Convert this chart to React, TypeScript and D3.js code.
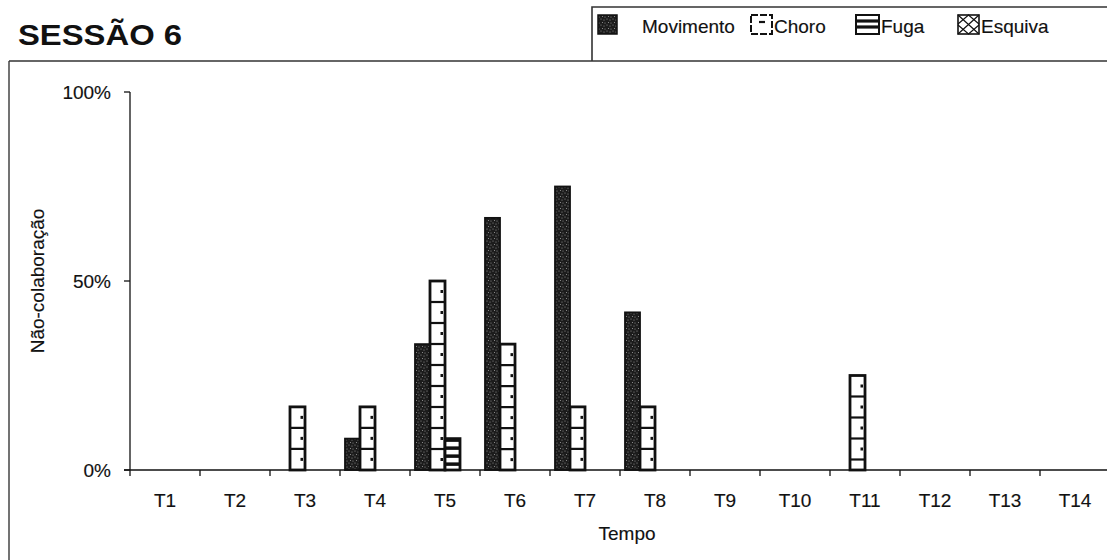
import { useEffect, useRef } from "react";
import * as d3 from "d3";

const categories = ["T1", "T2", "T3", "T4", "T5", "T6", "T7", "T8", "T9", "T10", "T11", "T12", "T13", "T14"];
const seriesNames = ["Movimento", "Choro", "Fuga", "Esquiva"];
const movimento = [0, 0, 0, 8.3, 33.3, 66.7, 75, 41.7, 0, 0, 0, 0, 0, 0];
const choro = [0, 0, 16.7, 16.7, 50, 33.3, 16.7, 16.7, 0, 0, 25, 0, 0, 0];
const fuga = [0, 0, 0, 0, 8.3, 0, 0, 0, 0, 0, 0, 0, 0, 0];
const esquiva = [0, 0, 0, 0, 0, 0, 0, 0, 0, 0, 0, 0, 0, 0];
const yTicks = [0, 50, 100];
const yTickLabels = ["0%", "50%", "100%"];

const FONT = "'Liberation Sans', Arial, sans-serif";
const INK = "#111";

export default function App() {
  const svgRef = useRef<SVGSVGElement | null>(null);
  const width = 1107;
  const height = 560;

  useEffect(() => {
    const svg = d3.select(svgRef.current);
    svg.selectAll("*").remove();

    const x0 = d3.scaleBand<string>().domain(categories).range([130, 1110]).padding(0);
    const x1 = d3
      .scaleBand<string>()
      .domain(seriesNames)
      .range([5, x0.bandwidth() - 5])
      .padding(0);
    const y = d3.scaleLinear().domain([0, 100]).range([470, 92]);

    // stipple for Movimento
    const defs = svg.append("defs");
    const pat = defs
      .append("pattern")
      .attr("id", "stip")
      .attr("patternUnits", "userSpaceOnUse")
      .attr("width", 6)
      .attr("height", 6);
    pat.append("rect").attr("width", 6).attr("height", 6).attr("fill", "#1c1c1c");
    [[1, 1], [4, 2], [2.5, 4.5], [5, 5]].forEach(([cx, cy]) =>
      pat.append("circle").attr("cx", cx).attr("cy", cy).attr("r", 0.55).attr("fill", "#9a9a9a")
    );

    const txt = (sel: d3.Selection<SVGTextElement, unknown, null, undefined>) =>
      sel.attr("font-family", FONT).attr("fill", INK).attr("stroke", INK).attr("stroke-width", 0.15);

    // frame
    svg.append("line").attr("x1", 9).attr("x2", 9).attr("y1", 61).attr("y2", 560).attr("stroke", "#444").attr("stroke-width", 1.5);
    svg.append("line").attr("x1", 9).attr("x2", 1107).attr("y1", 61).attr("y2", 61).attr("stroke", "#333").attr("stroke-width", 1.6);

    // title
    svg.append("text")
      .attr("x", 18)
      .attr("y", 45)
      .attr("font-family", FONT)
      .attr("font-weight", "bold")
      .attr("font-size", 30)
      .attr("textLength", 164)
      .attr("lengthAdjust", "spacingAndGlyphs")
      .attr("fill", INK)
      .text("SESSÃO 6");

    // legend box
    svg.append("path")
      .attr("d", "M592,61 L592,7 L1107,7")
      .attr("fill", "none")
      .attr("stroke", "#333")
      .attr("stroke-width", 1.6);

    const leg = svg.append("g");
    const legendX = [598, 751, 856, 958];
    const sw = 19;
    const sy = 15;
    // Movimento swatch
    leg.append("rect").attr("x", legendX[0]).attr("y", sy).attr("width", 19).attr("height", sw).attr("fill", "url(#stip)").attr("stroke", INK).attr("stroke-width", 1.5);
    // Choro swatch
    leg.append("rect").attr("x", legendX[1]).attr("y", sy).attr("width", 21).attr("height", sw).attr("fill", "#fff").attr("stroke", INK).attr("stroke-width", 2).attr("stroke-dasharray", "7 2");
    leg.append("line").attr("x1", legendX[1] + 8).attr("x2", legendX[1] + 14).attr("y1", sy + 7).attr("y2", sy + 7).attr("stroke", INK).attr("stroke-width", 2.2);
    // Fuga swatch
    leg.append("rect").attr("x", legendX[2]).attr("y", sy).attr("width", 23).attr("height", sw).attr("fill", "#fff").attr("stroke", INK).attr("stroke-width", 2);
    [sy + 6, sy + 12].forEach((yy) =>
      leg.append("line").attr("x1", legendX[2]).attr("x2", legendX[2] + 23).attr("y1", yy).attr("y2", yy).attr("stroke", INK).attr("stroke-width", 3.2)
    );
    // Esquiva swatch
    const ex = legendX[3];
    const ew = 21;
    leg.append("rect").attr("x", ex).attr("y", sy).attr("width", ew).attr("height", sw).attr("fill", "#fff").attr("stroke", INK).attr("stroke-width", 1.6);
    leg.append("path")
      .attr("d", `M${ex},${sy} L${ex + ew},${sy + sw} M${ex + ew},${sy} L${ex},${sy + sw} M${ex},${sy + 9} L${ex + ew / 2},${sy} L${ex + ew},${sy + 9} M${ex},${sy + 10} L${ex + ew / 2},${sy + sw} L${ex + ew},${sy + 10}`)
      .attr("fill", "none")
      .attr("stroke", INK)
      .attr("stroke-width", 1.2);

    const legendTextX = [642, 774, 881, 981];
    seriesNames.forEach((n, i) => {
      leg.append("text").attr("x", legendTextX[i]).attr("y", 33).attr("font-size", 19).call(txt).text(n);
    });

    // y axis
    const ax = svg.append("g").attr("stroke", INK);
    ax.append("line").attr("x1", 130).attr("x2", 130).attr("y1", y(100)).attr("y2", y(0)).attr("stroke-width", 1.3);
    yTicks.forEach((t, i) => {
      ax.append("line").attr("x1", 124).attr("x2", 130).attr("y1", y(t)).attr("y2", y(t)).attr("stroke-width", 1.3);
      svg.append("text")
        .attr("x", 111)
        .attr("y", y(t))
        .attr("dy", "0.36em")
        .attr("text-anchor", "end")
        .attr("font-size", 19)
        .call(txt)
        .text(yTickLabels[i]);
    });

    // y label
    svg.append("text")
      .attr("transform", `translate(44,${y(50)}) rotate(-90)`)
      .attr("text-anchor", "middle")
      .attr("font-size", 19)
      .call(txt)
      .text("Não-colaboração");

    // bars
    const bars = svg.append("g");
    categories.forEach((c, i) => {
      const base = x0(c)!;
      const vm = movimento[i];
      if (vm > 0) {
        bars.append("rect")
          .attr("x", base + x1("Movimento")!)
          .attr("y", y(vm))
          .attr("width", x1.bandwidth())
          .attr("height", y(0) - y(vm))
          .attr("fill", "url(#stip)")
          .attr("stroke", INK)
          .attr("stroke-width", 1.8);
      }
      const vc = choro[i];
      if (vc > 0) {
        const bx = base + x1("Choro")!;
        const bw = x1.bandwidth();
        const top = y(vc);
        bars.append("rect")
          .attr("x", bx)
          .attr("y", top)
          .attr("width", bw)
          .attr("height", y(0) - top)
          .attr("fill", "#fff")
          .attr("stroke", INK)
          .attr("stroke-width", 2.8);
        const step = (y(0) - y(100)) / 18;
        for (let yy = top + step; yy < y(0) - 2; yy += step) {
          bars.append("line").attr("x1", bx).attr("x2", bx + bw).attr("y1", yy).attr("y2", yy).attr("stroke", INK).attr("stroke-width", 2.2);
        }
        for (let yy = top + step / 2; yy < y(0) - 3; yy += step) {
          bars.append("rect").attr("x", bx + bw - 4.5).attr("y", yy - 1.5).attr("width", 2.5).attr("height", 3).attr("fill", INK);
        }
      }
      const vf = fuga[i];
      if (vf > 0) {
        const bx = base + x1("Fuga")!;
        const bw = x1.bandwidth();
        const top = y(vf);
        bars.append("rect")
          .attr("x", bx)
          .attr("y", top)
          .attr("width", bw)
          .attr("height", y(0) - top)
          .attr("fill", "#fff")
          .attr("stroke", INK)
          .attr("stroke-width", 2.8);
        for (let yy = top + 1.5; yy < y(0); yy += 8) {
          bars.append("line").attr("x1", bx).attr("x2", bx + bw).attr("y1", yy).attr("y2", yy).attr("stroke", INK).attr("stroke-width", 3.5);
        }
      }
      const ve = esquiva[i];
      if (ve > 0) {
        bars.append("rect")
          .attr("x", base + x1("Esquiva")!)
          .attr("y", y(ve))
          .attr("width", x1.bandwidth())
          .attr("height", y(0) - y(ve))
          .attr("fill", "#fff")
          .attr("stroke", INK);
      }
    });

    // x axis
    const xa = svg.append("g").attr("stroke", INK);
    xa.append("line").attr("x1", 124).attr("x2", 1110).attr("y1", y(0)).attr("y2", y(0)).attr("stroke-width", 1.3);
    categories.forEach((c) => {
      xa.append("line").attr("x1", x0(c)!).attr("x2", x0(c)!).attr("y1", y(0)).attr("y2", y(0) + 6).attr("stroke-width", 1.3);
      svg.append("text")
        .attr("x", x0(c)! + x0.bandwidth() / 2)
        .attr("y", 507)
        .attr("text-anchor", "middle")
        .attr("font-size", 19)
        .call(txt)
        .text(c);
    });

    svg.append("text")
      .attr("x", 627)
      .attr("y", 540)
      .attr("text-anchor", "middle")
      .attr("font-size", 19)
      .call(txt)
      .text("Tempo");
  }, []);

  return (
    <svg
      ref={svgRef}
      width={width}
      height={height}
      style={{ position: "absolute", left: 0, top: 0, backgroundColor: "#fff" }}
    />
  );
}
